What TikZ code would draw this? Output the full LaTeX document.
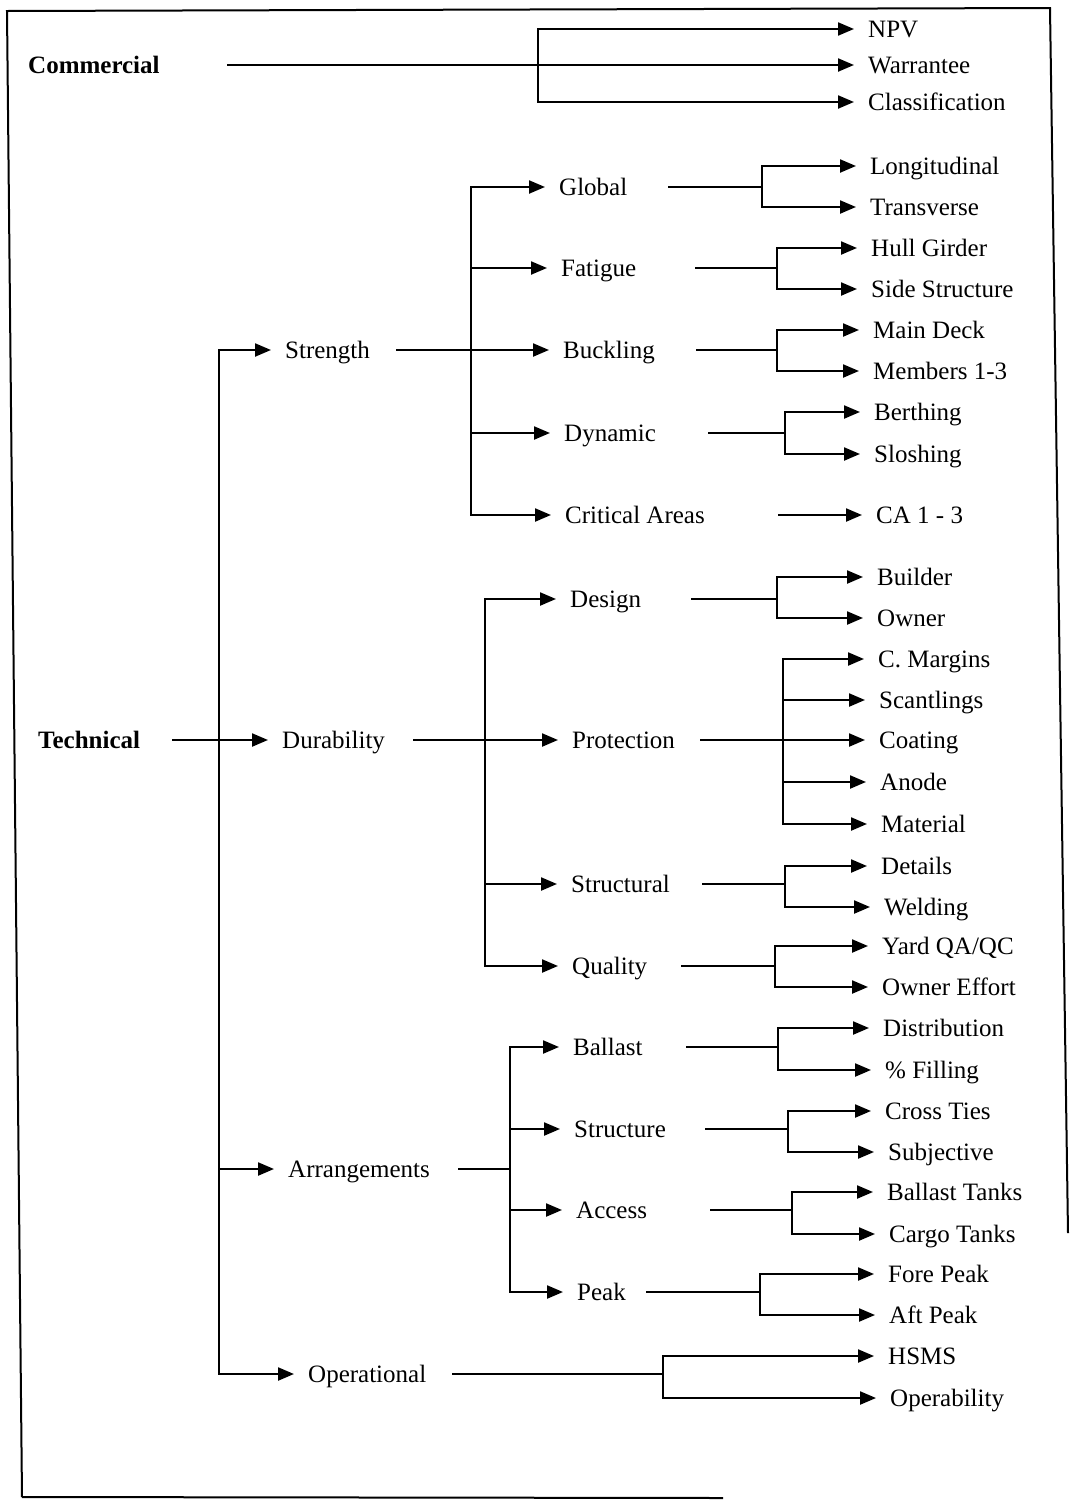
\documentclass[tikz,border=0pt]{standalone}
\usepackage{fontspec}
\setmainfont{Liberation Serif}
\usetikzlibrary{arrows.meta}
\tikzset{
  lbl/.style={anchor=west, inner sep=0pt, text height=19pt, text depth=3pt, font=\fontsize{25}{30}\selectfont},
  bld/.style={lbl, font=\fontsize{25}{30}\selectfont\bfseries},
  ln/.style={line width=2.2pt},
  arw/.style={ln, -{Triangle[length=16pt,width=13pt]}},
  frm/.style={line width=2pt}
}
\newcommand{\fanout}[5]{%
  \draw[ln] (#1,0 |- #3) -- (#2,0 |- #3);
  \draw[arw] (#2,0 |- #5) -- (#2,0 |- #4) -- ([xshift=-14pt]#4.west);
  \draw[arw] (#2,0 |- #4) -- (#2,0 |- #5) -- ([xshift=-14pt]#5.west);
}
\newcommand{\midarrow}[2]{%
  \draw[arw] (#1,0 |- #2) -- ([xshift=-14pt]#2.west);
}
\begin{document}
\begin{tikzpicture}[x=1pt,y=-1pt]
\useasboundingbox (0,0) rectangle (1070,1500);
% frame (as scanned)
\draw[frm] (22,1497) -- (7,11) -- (1050,8) -- (1068,1233);
\draw[frm] (22,1497) -- (723,1498);

% nodes
\node[bld] (com) at (28,65) {Commercial};
\node[lbl] (npv) at (868,29) {NPV};
\node[lbl] (war) at (868,65) {Warrantee};
\node[lbl] (cla) at (868,102) {Classification};

\node[bld] (tec) at (38,740) {Technical};
\node[lbl] (str) at (285,350) {Strength};
\node[lbl] (dur) at (282,740) {Durability};
\node[lbl] (arr) at (288,1169) {Arrangements};
\node[lbl] (ope) at (308,1374) {Operational};

\node[lbl] (glo) at (559,187) {Global};
\node[lbl] (fat) at (561,268) {Fatigue};
\node[lbl] (buc) at (563,350) {Buckling};
\node[lbl] (dyn) at (564,433) {Dynamic};
\node[lbl] (cri) at (565,515) {Critical Areas};

\node[lbl] (lon) at (870,166) {Longitudinal};
\node[lbl] (tra) at (870,207) {Transverse};
\node[lbl] (hul) at (871,248) {Hull Girder};
\node[lbl] (sid) at (871,289) {Side Structure};
\node[lbl] (mai) at (873,330) {Main Deck};
\node[lbl] (mem) at (873,371) {Members 1-3};
\node[lbl] (ber) at (874,412) {Berthing};
\node[lbl] (slo) at (874,454) {Sloshing};
\node[lbl] (ca)  at (876,515) {CA 1 - 3};

\node[lbl] (des) at (570,599) {Design};
\node[lbl] (pro) at (572,740) {Protection};
\node[lbl] (stl) at (571,884) {Structural};
\node[lbl] (qua) at (572,966) {Quality};

\node[lbl] (bui) at (877,577) {Builder};
\node[lbl] (own) at (877,618) {Owner};
\node[lbl] (cma) at (878,659) {C. Margins};
\node[lbl] (sca) at (879,700) {Scantlings};
\node[lbl] (coa) at (879,740) {Coating};
\node[lbl] (ano) at (880,782) {Anode};
\node[lbl] (mat) at (881,824) {Material};
\node[lbl] (det) at (881,866) {Details};
\node[lbl] (wel) at (884,907) {Welding};
\node[lbl] (yar) at (882,946) {Yard QA/QC};
\node[lbl] (owe) at (882,987) {Owner Effort};

\node[lbl] (bal) at (573,1047) {Ballast};
\node[lbl] (stu) at (574,1129) {Structure};
\node[lbl] (acc) at (576,1210) {Access};
\node[lbl] (pea) at (577,1292) {Peak};

\node[lbl] (dis) at (883,1028) {Distribution};
\node[lbl] (fil) at (885,1070) {\% Filling};
\node[lbl] (cro) at (885,1111) {Cross Ties};
\node[lbl] (sub) at (888,1152) {Subjective};
\node[lbl] (bta) at (887,1192) {Ballast Tanks};
\node[lbl] (cta) at (889,1234) {Cargo Tanks};
\node[lbl] (for) at (888,1274) {Fore Peak};
\node[lbl] (aft) at (889,1315) {Aft Peak};
\node[lbl] (hsm) at (888,1356) {HSMS};
\node[lbl] (opb) at (890,1398) {Operability};

% connectors
\fanout{227}{538}{com}{npv}{cla}
\midarrow{538}{war}

\fanout{172}{219}{tec}{str}{ope}
\midarrow{219}{dur}
\midarrow{219}{arr}

\fanout{396}{471}{str}{glo}{cri}
\midarrow{471}{fat}
\midarrow{471}{buc}
\midarrow{471}{dyn}

\fanout{668}{762}{glo}{lon}{tra}
\fanout{695}{777}{fat}{hul}{sid}
\fanout{696}{777}{buc}{mai}{mem}
\fanout{708}{785}{dyn}{ber}{slo}
\midarrow{778}{ca}

\fanout{413}{485}{dur}{des}{qua}
\midarrow{485}{pro}
\midarrow{485}{stl}

\fanout{691}{777}{des}{bui}{own}
\fanout{700}{783}{pro}{cma}{mat}
\midarrow{783}{sca}
\midarrow{783}{coa}
\midarrow{783}{ano}
\fanout{702}{785}{stl}{det}{wel}
\fanout{681}{775}{qua}{yar}{owe}

\fanout{458}{510}{arr}{bal}{pea}
\midarrow{510}{stu}
\midarrow{510}{acc}

\fanout{686}{778}{bal}{dis}{fil}
\fanout{705}{788}{stu}{cro}{sub}
\fanout{710}{792}{acc}{bta}{cta}
\fanout{646}{760}{pea}{for}{aft}

\fanout{452}{663}{ope}{hsm}{opb}
\end{tikzpicture}
\end{document}
